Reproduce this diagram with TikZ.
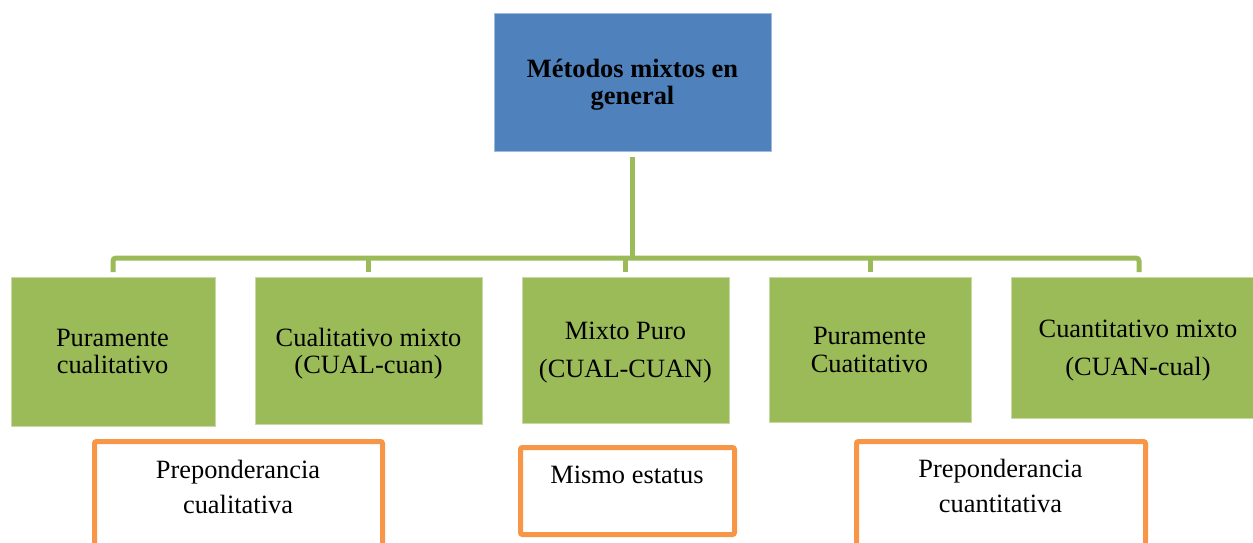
\documentclass[tikz,border=0pt]{standalone}
\usepackage{fontspec}
\setmainfont{Liberation Serif}
\definecolor{accblue}{HTML}{4F81BD}
\definecolor{accgreen}{HTML}{9BBB59}
\definecolor{accorange}{HTML}{F79646}
\begin{document}
\begin{tikzpicture}[x=1pt,y=-1pt,
  box/.style={rectangle, inner sep=0pt, outer sep=0pt},
  topbox/.style={box, fill=accblue, draw=accblue!55!white, line width=0.8pt},
  greenbox/.style={box, fill=accgreen, draw=accgreen!55!white, line width=0.8pt},
  orangebox/.style={box, draw=accorange, line width=5pt, rounded corners=2pt, fill=white},
  lbl/.style={inner sep=0pt, align=center, font={\fontsize{26.4}{#1}\selectfont}},
  conn/.style={draw=accgreen, line width=5pt},
]
\useasboundingbox (0,0) rectangle (1253,543);

% top box
\node[topbox, minimum width=277pt, minimum height=138pt] (top) at (632.5,82) {};
\node[lbl=27] (ttop) at (632.5,85.1) {\bfseries\strut Métodos mixtos en\\\bfseries\strut general};

% green boxes
\node[greenbox, minimum width=204pt, minimum height=149pt] (c1) at (113,351.5) {};
\node[greenbox, minimum width=227pt, minimum height=147pt] (c2) at (368.5,350.5) {};
\node[greenbox, minimum width=207pt, minimum height=146pt] (c3) at (625.5,350) {};
\node[greenbox, minimum width=202pt, minimum height=145pt] (c4) at (870,349.5) {};
\node[greenbox, minimum width=256pt, minimum height=141pt] (c5) at (1139,347.5) {};

\node[lbl=27] (t1) at (112.5,354.1) {\strut Puramente\\\strut cualitativo};
\node[lbl=27] (t2) at (368.5,354.1) {\strut Cualitativo mixto\\\strut (CUAL-cuan)};
\node[lbl=38] (t3) at (625.5,350.4) {\strut Mixto Puro\\\strut (CUAL-CUAN)};
\node[lbl=28] (t4) at (869.5,352.4) {\strut Puramente\\\strut Cuatitativo};
\node[lbl=38] (t5) at (1138,348.4) {\strut Cuantitativo mixto\\\strut (CUAN-cual)};

% orange boxes
\node[orangebox, minimum width=288pt, minimum height=158.5pt] (o1) at (238.5,520.75) {};
\node[orangebox, minimum width=214pt, minimum height=87pt] (o2) at (627.5,491) {};
\node[orangebox, minimum width=289pt, minimum height=158.5pt] (o3) at (1001,520.75) {};

\node[lbl=35] (p1) at (238,488.5) {\strut Preponderancia\\\strut cualitativa};
\node[lbl=28] (p2) at (627,477.4) {\strut Mismo estatus};
\node[lbl=35] (p3) at (1000.5,487.5) {\strut Preponderancia\\\strut cuantitativa};

% connectors
\coordinate (bar) at (632,258);
\draw[conn, line width=5.5pt, shorten <=6pt] (top.south) -- (top.south |- bar);
\draw[conn, rounded corners=3pt, shorten <=5pt, shorten >=5pt]
  (c1.north) -- (c1.north |- bar) -- (c5.north |- bar) -- (c5.north);
\foreach \n in {c2,c3,c4}
  \draw[conn, shorten >=5pt] (\n.north |- bar) -- (\n.north);
\end{tikzpicture}
\end{document}
